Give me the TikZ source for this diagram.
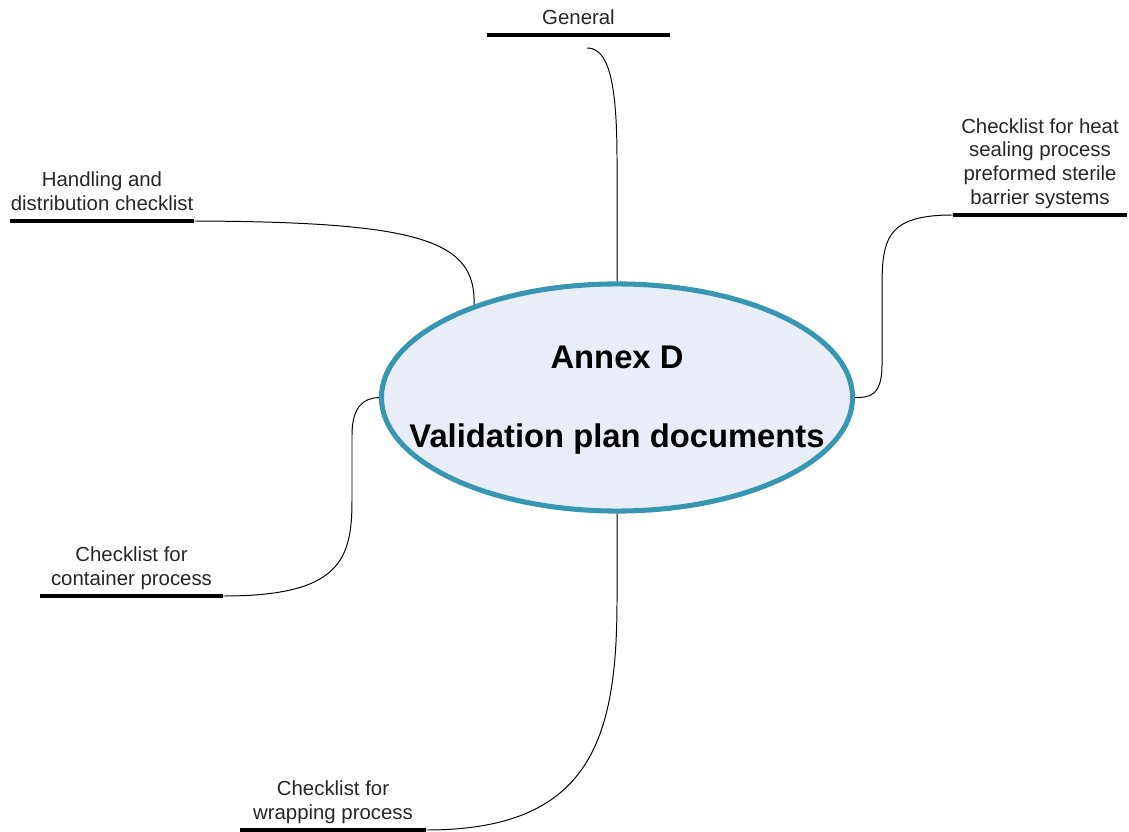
\documentclass[tikz,border=0pt]{standalone}
\usepackage{fontspec}
\setmainfont{Liberation Sans}
\usetikzlibrary{shapes.geometric}
\definecolor{annexblue}{RGB}{56,150,178}
\definecolor{annexfill}{RGB}{232,237,247}
\tikzstyle{topic}=[inner xsep=0pt,inner ysep=7.1pt,text depth=0pt,anchor=south,align=center,font=\fontsize{14.5}{17}\selectfont,text=black!85]
\tikzstyle{bar}=[line width=3.4pt,line cap=butt]
\tikzstyle{branch}=[line width=0.7pt]
\tikzstyle{annex}=[ellipse,draw=annexblue,fill=annexfill,line width=3.6pt,inner sep=0pt]
\tikzstyle{title}=[inner sep=0pt,align=center,font=\fontsize{23.3}{28}\selectfont\bfseries]

\begin{document}
\begin{tikzpicture}[x=0.025cm,y=-0.025cm]
	\useasboundingbox (0,0) rectangle (1129,832);

	\node[annex,minimum width=335pt,minimum height=161.5pt] (annex) at (617,397.5) {};
	\node[title] (annex-title) at (617,400) {Annex D\\[28pt]Validation plan documents};

	\node[topic,minimum width=130.2pt] (gen) at (578.5,35) {General};
	\node[topic,minimum width=130.9pt] (hand) at (102,221) {Handling and\\distribution checklist};
	\node[topic,minimum width=123.8pt] (heat) at (1040,215) {Checklist for heat\\sealing process\\preformed sterile\\barrier systems};
	\node[topic,minimum width=130.2pt] (cont) at (131.5,596) {Checklist for\\container process};
	\node[topic,minimum width=132.3pt] (wrap) at (333,830) {Checklist for\\wrapping process};

	\draw[bar] (gen.south west) -- (gen.south east);
	\draw[bar] (hand.south west) -- (hand.south east);
	\draw[bar] (heat.south west) -- (heat.south east);
	\draw[bar] (cont.south west) -- (cont.south east);
	\draw[bar] (wrap.south west) -- (wrap.south east);

	\coordinate (gen-tail) at (587,48);
	\draw[branch] (gen-tail) .. controls (608,48) and (617,80) .. (617,160) -- (annex.90);
	\draw[branch] (hand.south east) .. controls (420,222) and (476,240) .. (annex.147);
	\draw[branch] (heat.south west) .. controls (885,215) and (882,240) .. (882,290) -- (882,365) .. controls (882,395) and (870,398) .. (annex.0);
	\draw[branch] (cont.south east) .. controls (340,596) and (352,560) .. (352,500) -- (352,435) .. controls (352,405) and (365,398) .. (annex.180);
	\draw[branch] (wrap.south east) .. controls (590,830) and (617,740) .. (617,600) -- (annex.270);
\end{tikzpicture}
\end{document}
